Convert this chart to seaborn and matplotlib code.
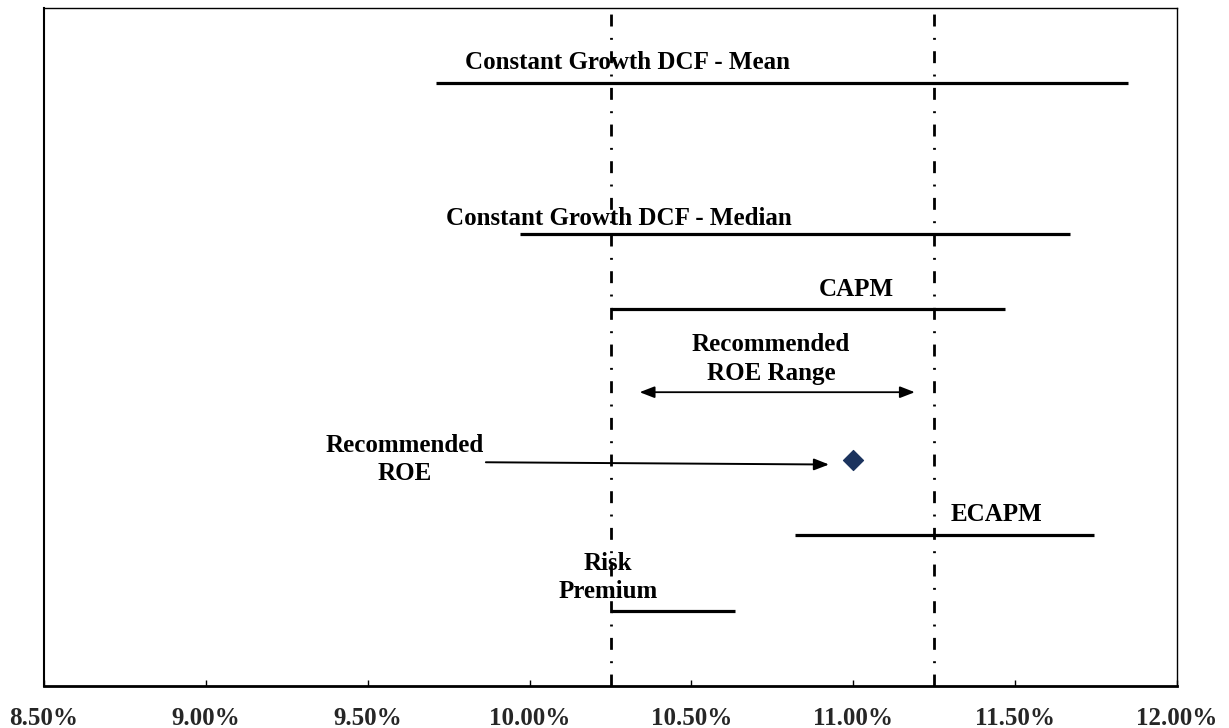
import matplotlib
matplotlib.use("Agg")
import matplotlib.pyplot as plt
import seaborn as sns
import pandas as pd

# ROE estimate ranges by method (percent)
methods = ["Constant Growth DCF - Mean", "Constant Growth DCF - Median",
           "CAPM", "ECAPM", "Risk Premium"]
low = [9.71, 9.97, 10.25, 10.82, 10.25]
high = [11.85, 11.67, 11.47, 11.745, 10.635]
row = [8, 6, 5, 2, 1]

# Recommended range and point estimate
range_low, range_high = 10.25, 11.25
arrow_low, arrow_high = 10.34, 11.19
recommended_roe = 11.00

tick_values = [8.5, 9.0, 9.5, 10.0, 10.5, 11.0, 11.5, 12.0]
tick_labels = ["8.50%", "9.00%", "9.50%", "10.00%", "10.50%", "11.00%", "11.50%", "12.00%"]

sns.set_theme(style="white")
plt.rcParams["font.family"] = ["Liberation Serif", "DejaVu Serif"]
plt.rcParams["font.weight"] = "bold"

fig = plt.figure(figsize=(12.29, 7.28), dpi=100)
ax = fig.add_axes([0.0358, 0.0577, 0.9219, 0.9313])

seg = pd.DataFrame({
    "method": methods * 2,
    "roe": low + high,
    "row": row * 2,
})
sns.lineplot(data=seg, x="roe", y="row", units="method", estimator=None,
             sort=False, color="black", lw=2.3, ax=ax, legend=False,
             solid_capstyle="butt")

# Bounds of the recommended range
for xv in (range_low, range_high):
    ax.axvline(xv, color="black", lw=2.0, dash_capstyle="butt",
               linestyle=(0, (4.3, 4.1, 0.7, 4.1)), zorder=1)

pt = pd.DataFrame({"roe": [recommended_roe], "row": [3.0]})
sns.scatterplot(data=pt, x="roe", y="row", marker="D", s=105,
                color="#1b335e", edgecolor="#1b335e", ax=ax, zorder=5)

ax.annotate("", xy=(arrow_high, 3.9), xytext=(arrow_low, 3.9),
            arrowprops=dict(arrowstyle="<|-|>,head_length=0.9,head_width=0.35",
                            mutation_scale=10, color="black", lw=1.3,
                            shrinkA=0, shrinkB=0))
ax.annotate("", xy=(10.925, 2.94), xytext=(9.865, 2.97),
            arrowprops=dict(arrowstyle="-|>,head_length=0.9,head_width=0.35",
                            mutation_scale=10, color="black", lw=1.4,
                            shrinkA=0, shrinkB=0))

fs = 18
txt = dict(fontsize=fs, fontweight="bold", ha="center", va="center",
           color="black", linespacing=1.3)
ax.text(10.304, 8.28, "Constant Growth DCF - Mean", **txt)
ax.text(10.276, 6.20, "Constant Growth DCF - Median", **txt)
ax.text(11.009, 5.26, "CAPM", **txt)
ax.text(10.746, 4.34, "Recommended\nROE Range", **txt)
ax.text(9.615, 3.01, "Recommended\nROE", **txt)
ax.text(11.442, 2.28, "ECAPM", **txt)
ax.text(10.243, 1.44, "Risk\nPremium", **txt)

ax.set_xlim(8.5, 12.0)
ax.set_ylim(0, 9)
ax.set_xticks(tick_values)
ax.set_xticklabels(tick_labels, fontsize=fs, fontweight="bold")
ax.set_yticks([])
ax.set_xlabel("")
ax.set_ylabel("")
ax.tick_params(axis="x", direction="in", length=4.5, width=1.0,
               color="black", pad=15, bottom=True)
for s in ax.spines.values():
    s.set_visible(True)
    s.set_color("black")
    s.set_linewidth(1.0)
ax.spines["bottom"].set_linewidth(2.0)
ax.spines["left"].set_linewidth(1.5)

fig.savefig("out.png", dpi=100)
